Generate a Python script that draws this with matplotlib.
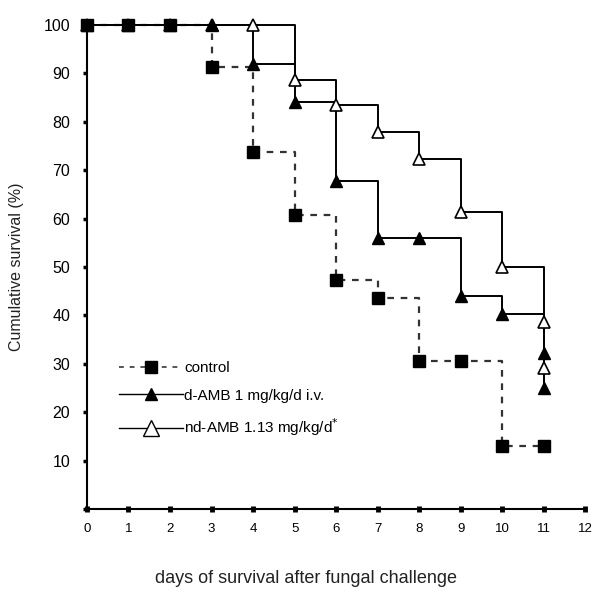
import matplotlib.pyplot as plt

plt.rcParams['font.family'] = ['Liberation Sans', 'DejaVu Sans']

# day of observation / cumulative survival (%)
control_days = [0, 1, 2, 3, 4, 5, 6, 7, 8, 9, 10, 11]
control_surv = [100, 100, 100, 91.3, 73.8, 60.7, 47.3, 43.5, 30.5, 30.5, 13.1, 13.1]

damb_days = [0, 1, 2, 3, 4, 5, 6, 7, 8, 9, 10, 11, 11]
damb_surv = [100, 100, 100, 100, 92, 84, 67.8, 56, 56, 44, 40.2, 32.3, 25]

ndamb_days = [0, 1, 2, 3, 4, 5, 6, 7, 8, 9, 10, 11, 11]
ndamb_surv = [100, 100, 100, 100, 100, 88.6, 83.5, 77.9, 72.3, 61.3, 50, 38.7, 29.2]

labels = ["control", "d-AMB 1 mg/kg/d i.v.", "nd-AMB 1.13 mg/kg/d$^{*}$"]

fig = plt.figure(figsize=(5.95, 5.92), dpi=100)
ax = fig.add_axes([0.146, 0.140, 0.838, 0.818])

ms = 8
# control: dashed steps, filled squares
ax.step(control_days, control_surv, where='post', color='#333333',
        lw=1.6, ls=(0, (3, 3)), clip_on=False, zorder=2)
ax.plot(control_days, control_surv, ls='none', marker='s', ms=ms,
        color='black', clip_on=False, zorder=4)

# nd-AMB: solid steps, open triangles
ax.step(ndamb_days, ndamb_surv, where='post', color='black', lw=1.4,
        clip_on=False, zorder=2)
ax.plot(ndamb_days, ndamb_surv, ls='none', marker='^', ms=ms,
        mfc='white', mec='black', mew=1.2, clip_on=False, zorder=3)

# d-AMB: solid steps, filled triangles
ax.step(damb_days, damb_surv, where='post', color='black', lw=1.4,
        clip_on=False, zorder=2)
ax.plot(damb_days, damb_surv, ls='none', marker='^', ms=ms,
        color='black', clip_on=False, zorder=5)

# legend handles
h1, = ax.plot([], [], color='#555555', lw=1.4, ls=(0, (2.5, 3)),
              marker='s', ms=ms, mfc='black', mec='black')
h2, = ax.plot([], [], color='black', lw=1.0, marker='^', ms=ms)
h3, = ax.plot([], [], color='black', lw=1.0, marker='^', ms=11,
              mfc='white', mec='black', mew=1.0)

ax.set_xlim(0, 12)
ax.set_ylim(0, 100)
ax.set_xticks(range(0, 13))
ax.set_yticks(range(0, 101, 10))
ax.set_yticklabels([''] + [str(v) for v in range(10, 101, 10)])

for s in ['top', 'right']:
    ax.spines[s].set_visible(False)
for s in ['left', 'bottom']:
    ax.spines[s].set_linewidth(1.5)

ax.tick_params(axis='x', direction='inout', length=4, width=3.5,
               labelsize=9.5, pad=8)
ax.tick_params(axis='y', direction='out', length=3, width=2.5,
               labelsize=11.5, pad=9)

ax.set_xlabel("days of survival after fungal challenge",
              fontsize=13, color='#222222')
ax.xaxis.set_label_coords(0.44, -0.125)
ax.set_ylabel("Cumulative survival (%)", fontsize=11.5, color='#222222',
              labelpad=14)

ax.legend([h1, h2, h3], labels, loc='center left',
          bbox_to_anchor=(0.036, 0.226), frameon=False, fontsize=11,
          handlelength=4.2, handletextpad=0.1, labelspacing=0.9)

fig.savefig('out.png', dpi=100)
